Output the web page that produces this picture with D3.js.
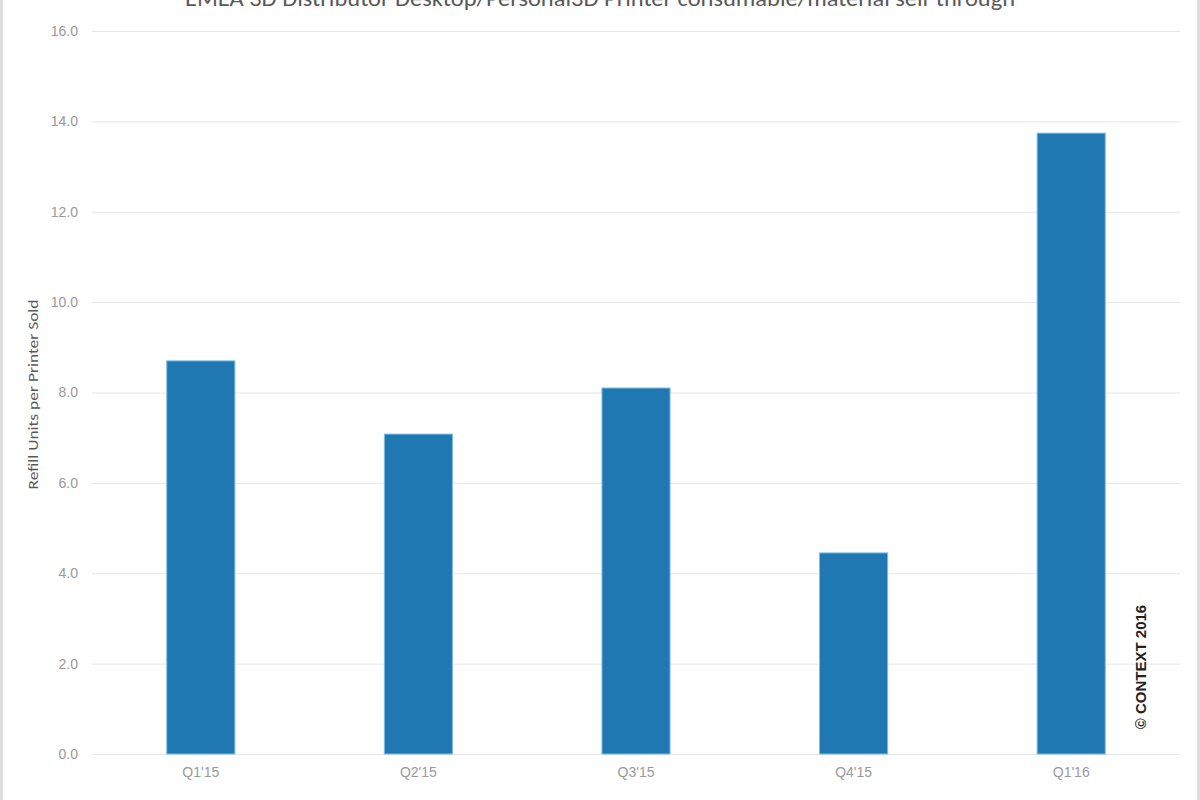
<!DOCTYPE html>
<html>
<head>
<meta charset="utf-8">
<script src="https://cdn.jsdelivr.net/npm/d3@7"></script>
<style>
  html, body { margin: 0; padding: 0; background: #fff; }
  svg { display: block; font-family: Calibri, "Liberation Sans", Carlito, "Open Sans", sans-serif; }
</style>
</head>
<body>
<svg id="chart" width="1200" height="800"></svg>
<script>
const categories = ["Q1'15", "Q2'15", "Q3'15", "Q4'15", "Q1'16"];
const values = [8.70, 7.08, 8.10, 4.45, 13.74];
const yTicks = [0, 2, 4, 6, 8, 10, 12, 14, 16];
const titleText = "EMEA 3D Distributor Desktop/Personal3D Printer consumable/material sell-through";
const yAxisTitle = "Refill Units per Printer Sold";
const copyrightText = "© CONTEXT 2016";

const svg = d3.select("#chart");
const W = 1200, H = 800;
const m = { left: 92, right: 20, top: 31, bottom: 46 };

svg.append("rect").attr("x", 1.5).attr("y", -5).attr("width", W - 3).attr("height", H + 10)
  .attr("fill", "#fff").attr("stroke", "#dcdcdc").attr("stroke-width", 3);

const x = d3.scaleBand().domain(categories).range([m.left, W - m.right]).paddingInner(0.687).paddingOuter(0.3435);
const y = d3.scaleLinear().domain([0, 16]).range([H - m.bottom, m.top]);

// gridlines
const yAxis = d3.axisLeft(y).tickValues(yTicks).tickFormat(d3.format(".1f")).tickSize(-(W - m.left - m.right)).tickPadding(14);
const gy = svg.append("g").attr("transform", `translate(${m.left},0)`).call(yAxis);
gy.select(".domain").remove();
gy.selectAll(".tick line").attr("stroke", "#e6e6e6").attr("stroke-width", 1);
gy.selectAll(".tick text").attr("fill", "#999").attr("font-size", 14);

// bars
svg.append("g").selectAll("rect").data(values).join("rect")
  .attr("x", (d, i) => x(categories[i]))
  .attr("y", d => y(d))
  .attr("width", x.bandwidth())
  .attr("height", d => y(0) - y(d))
  .attr("fill", "#1f78b1")
  .attr("stroke", "#7fbde6")
  .attr("stroke-width", 1);

// x axis
const xAxis = d3.axisBottom(x).tickSize(0).tickPadding(13);
const gx = svg.append("g").attr("transform", `translate(0,${y(0)})`).call(xAxis);
gx.select(".domain").remove();
gx.selectAll(".tick text").attr("fill", "#999").attr("font-size", 14);

// title (clipped at top like the reference)
svg.append("text").attr("x", 600).attr("y", 6).attr("text-anchor", "middle")
  .attr("fill", "#595959").attr("font-size", 22).attr("textLength", 830).attr("lengthAdjust", "spacingAndGlyphs")
  .text(titleText);

// y axis title
svg.append("text").attr("transform", `translate(38,${(y(0) + y(16)) / 2 + 2}) rotate(-90)`)
  .attr("text-anchor", "middle").attr("fill", "#595959").attr("font-size", 14)
  .attr("textLength", 190).attr("lengthAdjust", "spacingAndGlyphs").text(yAxisTitle);

// copyright
svg.append("text").attr("transform", `translate(1146,667) rotate(-90)`)
  .attr("text-anchor", "middle").attr("fill", "#222").attr("font-size", 15).attr("font-weight", "bold")
  .attr("font-family", "Arial, 'Liberation Sans', sans-serif").text(copyrightText);
</script>
</body>
</html>
